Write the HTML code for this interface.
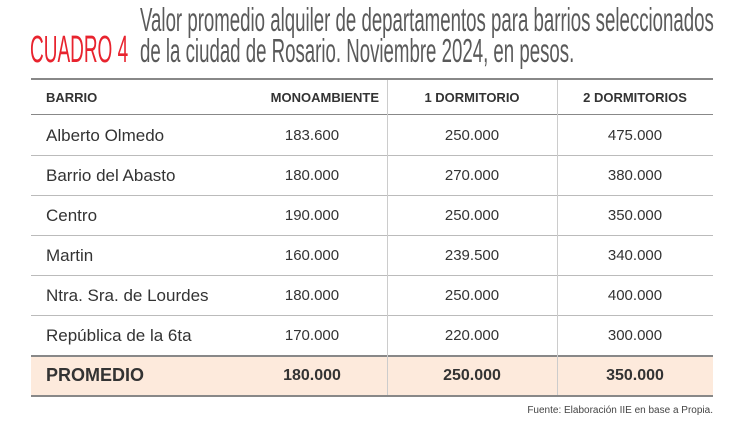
<!DOCTYPE html>
<html><head><meta charset="utf-8"><style>
body{margin:0;width:739px;height:423px;background:#fff;font-family:"Liberation Sans",sans-serif;position:relative;overflow:hidden}
.t{position:absolute;white-space:nowrap;transform-origin:0 0}
.cell{position:absolute;font-size:15px;color:#333}
.h{position:absolute;font-size:13px;font-weight:bold;color:#333}
.hl{position:absolute;left:31px;width:682px;height:1px;background:#bbb}
</style></head><body>
<div class="t" style="left:30px;top:29px;font-size:38px;color:#e8232e;transform:scaleX(0.5)">CUADRO 4</div>
<div class="t" style="left:140px;top:4px;font-size:33px;color:#5a5a5a;line-height:31px;transform:scaleX(0.565)">Valor promedio alquiler de departamentos para barrios seleccionados<br>de la ciudad de Rosario. Noviembre 2024, en pesos.</div>
<div style="position:absolute;left:31px;top:78px;width:682px;height:2px;background:#888"></div>
<div style="position:absolute;left:31px;top:355px;width:682px;height:41px;background:#fdeadc"></div>
<div style="position:absolute;left:31px;top:114px;width:682px;height:1px;background:#888"></div>
<div class="hl" style="top:155px"></div><div class="hl" style="top:195px"></div><div class="hl" style="top:235px"></div><div class="hl" style="top:275px"></div><div class="hl" style="top:315px"></div>
<div style="position:absolute;left:31px;top:355px;width:682px;height:2px;background:#888"></div>
<div style="position:absolute;left:31px;top:395px;width:682px;height:2px;background:#888"></div>
<div style="position:absolute;left:387px;top:80px;width:1px;height:315px;background:#ccc"></div>
<div style="position:absolute;left:557px;top:80px;width:1px;height:315px;background:#ccc"></div>
<div class="h" style="left:46px;top:90px">BARRIO</div>
<div class="h" style="left:250px;width:129px;text-align:right;top:90px">MONOAMBIENTE</div>
<div class="h" style="left:387px;width:170px;text-align:center;top:90px">1 DORMITORIO</div>
<div class="h" style="left:557px;width:156px;text-align:center;top:90px">2 DORMITORIOS</div>
<div class="cell" style="left:46px;top:126px;font-size:17px">Alberto Olmedo</div>
<div class="cell" style="left:262px;width:100px;text-align:center;top:127px">183.600</div>
<div class="cell" style="left:387px;width:170px;text-align:center;top:127px">250.000</div>
<div class="cell" style="left:557px;width:156px;text-align:center;top:127px">475.000</div>
<div class="cell" style="left:46px;top:166px;font-size:17px">Barrio del Abasto</div>
<div class="cell" style="left:262px;width:100px;text-align:center;top:167px">180.000</div>
<div class="cell" style="left:387px;width:170px;text-align:center;top:167px">270.000</div>
<div class="cell" style="left:557px;width:156px;text-align:center;top:167px">380.000</div>
<div class="cell" style="left:46px;top:206px;font-size:17px">Centro</div>
<div class="cell" style="left:262px;width:100px;text-align:center;top:207px">190.000</div>
<div class="cell" style="left:387px;width:170px;text-align:center;top:207px">250.000</div>
<div class="cell" style="left:557px;width:156px;text-align:center;top:207px">350.000</div>
<div class="cell" style="left:46px;top:246px;font-size:17px">Martin</div>
<div class="cell" style="left:262px;width:100px;text-align:center;top:247px">160.000</div>
<div class="cell" style="left:387px;width:170px;text-align:center;top:247px">239.500</div>
<div class="cell" style="left:557px;width:156px;text-align:center;top:247px">340.000</div>
<div class="cell" style="left:46px;top:286px;font-size:17px">Ntra. Sra. de Lourdes</div>
<div class="cell" style="left:262px;width:100px;text-align:center;top:287px">180.000</div>
<div class="cell" style="left:387px;width:170px;text-align:center;top:287px">250.000</div>
<div class="cell" style="left:557px;width:156px;text-align:center;top:287px">400.000</div>
<div class="cell" style="left:46px;top:326px;font-size:17px">República de la 6ta</div>
<div class="cell" style="left:262px;width:100px;text-align:center;top:327px">170.000</div>
<div class="cell" style="left:387px;width:170px;text-align:center;top:327px">220.000</div>
<div class="cell" style="left:557px;width:156px;text-align:center;top:327px">300.000</div>
<div class="cell" style="left:46px;top:365px;font-size:18px;font-weight:bold">PROMEDIO</div>
<div class="cell" style="left:262px;width:100px;text-align:center;top:367px;font-weight:bold;font-size:16px">180.000</div>
<div class="cell" style="left:387px;width:170px;text-align:center;top:367px;font-weight:bold;font-size:16px">250.000</div>
<div class="cell" style="left:557px;width:156px;text-align:center;top:367px;font-weight:bold;font-size:16px">350.000</div>
<div class="t" style="right:26px;top:405px;font-size:10px;color:#444">Fuente: Elaboración IIE en base a Propia.</div>
</body></html>
